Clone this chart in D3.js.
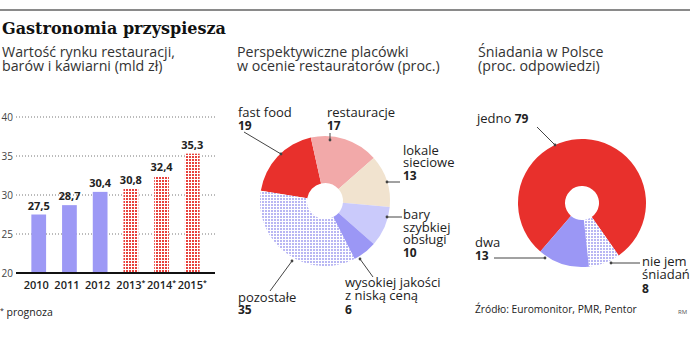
<!DOCTYPE html>
<html><head><meta charset="utf-8">
<script src="https://cdn.jsdelivr.net/npm/d3@7"></script>
<style>
body{margin:0;background:#fff;}
svg{display:block;font-family:"Open Sans",sans-serif;}
</style></head>
<body>
<svg id="c" width="698" height="340"></svg>
<script>
// ---------- data ----------
const years = ["2010","2011","2012","2013","2014","2015"];
const forecast = [false,false,false,true,true,true];
const marketValues = [27.5,28.7,30.4,30.8,32.4,35.3];
const yTicks = [20,25,30,35,40];

const outletLabels = [["fast food"],["restauracje"],["lokale","sieciowe"],["bary","szybkiej","obsługi"],["wysokiej jakości","z niską ceną"],["pozostałe"]];
const outletValues = [19,17,13,10,6,35];

const breakfastLabels = [["jedno"],["nie jem","śniadań"],["dwa"]];
const breakfastValues = [79,8,13];

const svg = d3.select("#c");
const fmt = v => String(v).replace(".", ",");
const txt = "#222";

// scale a text's font size so that its first line spans the given width
function fit(sel, width){
  const n = sel.node();
  const first = n.querySelector("tspan") || n;
  const fs = parseFloat(sel.attr("font-size"));
  const w = first.getComputedTextLength();
  if(w>0) sel.attr("font-size", fs*width/w);
  return sel;
}

// patterns
const defs = svg.append("defs");
function dotPattern(id, color){
  const p = defs.append("pattern").attr("id", id).attr("width",3).attr("height",3)
    .attr("patternUnits","userSpaceOnUse");
  p.append("rect").attr("width",3).attr("height",3).attr("fill","#fff");
  p.append("rect").attr("width",2).attr("height",2).attr("fill",color);
}
dotPattern("redDots","#e8413c");
dotPattern("lavDots","#b9b7f3");

// header
svg.append("line").attr("x1",0).attr("x2",690).attr("y1",10).attr("y2",10)
  .attr("stroke","#8a8a8a").attr("stroke-width",2);
fit(svg.append("text").attr("x",2).attr("y",34).text("Gastronomia przyspiesza")
  .attr("font-family","DejaVu Serif").attr("font-weight","bold").attr("font-size",16).attr("fill","#111"), 224);

function multiline(x, y, lines, size, lh, opts={}){
  const t = svg.append("text").attr("x",x).attr("y",y).attr("font-size",size).attr("fill",opts.fill||"#333");
  lines.forEach((l,i)=>t.append("tspan").attr("x",x).attr("dy",i?lh:0).text(l));
  return t;
}
const sub1 = fit(multiline(2,57,["Wartość rynku restauracji,","barów i kawiarni (mld zł)"],14,14), 173);
const subSize = sub1.attr("font-size");
multiline(237,57,["Perspektywiczne placówki","w ocenie restauratorów (proc.)"],subSize,14);
multiline(478,57,["Śniadania w Polsce","(proc. odpowiedzi)"],subSize,14);

// ---------- bar chart ----------
const x = d3.scaleBand().domain(years).range([16,215]).paddingInner(0.52).paddingOuter(0.5);
const y = d3.scaleLinear().domain([20,40]).range([273,117]);

const gy = svg.append("g").attr("transform","translate(16,0)")
  .call(d3.axisLeft(y).tickValues(yTicks).tickSize(0).tickPadding(3).tickFormat(d3.format("d")));
gy.select(".domain").remove();
gy.selectAll("text").attr("font-size",10).attr("fill","#444").attr("font-family","Open Sans");

svg.append("g").selectAll("line").data(yTicks.filter(d=>d>20)).join("line")
  .attr("x1",16).attr("x2",215).attr("y1",d=>y(d)).attr("y2",d=>y(d))
  .attr("stroke","#777").attr("stroke-width",1).attr("stroke-dasharray","1,2");

svg.append("g").selectAll("rect").data(marketValues).join("rect")
  .attr("x",(d,i)=>x(years[i])).attr("width",x.bandwidth())
  .attr("y",d=>y(d)).attr("height",d=>y(20)-y(d))
  .attr("fill",(d,i)=>forecast[i]?"url(#redDots)":"#9d99f5");

svg.append("line").attr("x1",16).attr("x2",215).attr("y1",y(20)).attr("y2",y(20))
  .attr("stroke","#111").attr("stroke-width",2);

svg.append("g").selectAll("text").data(marketValues).join("text")
  .attr("x",(d,i)=>x(years[i])+x.bandwidth()/2).attr("y",d=>y(d)-5)
  .attr("text-anchor","middle").attr("font-weight","bold").attr("font-size",11).attr("fill",txt)
  .text(d=>fmt(d));

const yl = svg.append("g").selectAll("text").data(years).join("text")
  .attr("x",(d,i)=>x(d)+x.bandwidth()/2-2.5 + (forecast[i]?2.5:0)).attr("y",289)
  .attr("text-anchor","middle").attr("font-size",11).attr("fill",txt).attr("font-weight","600");
yl.append("tspan").text(d=>d);
yl.filter((d,i)=>forecast[i]).append("tspan").attr("dy",-4).attr("font-size",7).text("*");

const fn = svg.append("text").attr("x",0).attr("y",316).attr("font-size",10.5).attr("fill",txt);
fn.append("tspan").attr("dy",-3).attr("font-size",7).text("*");
fn.append("tspan").attr("dy",3).text(" prognoza");

// ---------- leader helper ----------
function leader(pts){
  svg.append("polyline").attr("points",pts.map(p=>p.join(",")).join(" "))
    .attr("fill","none").attr("stroke","#444").attr("stroke-width",1);
  const e = pts[pts.length-1];
  svg.append("circle").attr("cx",e[0]).attr("cy",e[1]).attr("r",1.4).attr("fill","#444");
}
function label(x0,y0,lines,val,lh=12.5){
  multiline(x0,y0,lines,13,lh,{fill:txt});
  svg.append("text").attr("x",x0).attr("y",y0+lines.length*lh+0.5).attr("font-size",12)
    .attr("font-weight","bold").attr("fill",txt).text(val);
}

// ---------- donut 1 ----------
const c1 = [325,201];
const pie1 = d3.pie().sort(null).value(d=>d).startAngle(-1.414).endAngle(-1.414+2*Math.PI);
const arc1 = d3.arc().innerRadius(18).outerRadius(65);
const cols1 = ["#e8302c","#f2a9a9","#f1e3cf","#cacafb","#9b97f5","url(#lavDots)"];
svg.append("g").attr("transform",`translate(${c1})`).selectAll("path")
  .data(pie1(outletValues)).join("path").attr("d",arc1).attr("fill",(d,i)=>cols1[i]);

label(238,117,outletLabels[0],outletValues[0]);
leader([[244,132],[281,154]]);
label(327,117,outletLabels[1],outletValues[1]);
leader([[330,133],[330,140]]);
label(403,155,outletLabels[2],outletValues[2],12);
leader([[400,182],[387,182]]);
label(403,219,outletLabels[3],outletValues[3],12.5);
leader([[402,217],[387,217]]);
label(345,287,outletLabels[4],outletValues[4],13);
leader([[373,277],[360,259]]);
svg.append("text").attr("x",238).attr("y",302).attr("font-size",13).attr("fill",txt).text(outletLabels[5][0]);
svg.append("text").attr("x",238).attr("y",314).attr("font-size",12).attr("font-weight","bold").attr("fill",txt).text(outletValues[5]);
leader([[270,291],[292,261]]);

// ---------- donut 2 ----------
const c2 = [582,203];
const pie2 = d3.pie().sort(null).value(d=>d).startAngle(-2.433).endAngle(-2.433+2*Math.PI);
const arc2 = d3.arc().innerRadius(17).outerRadius(64);
const cols2 = ["#e8302c","url(#lavDots)","#9b97f5"];
svg.append("g").attr("transform",`translate(${c2})`).selectAll("path")
  .data(pie2(breakfastValues)).join("path").attr("d",arc2).attr("fill",(d,i)=>cols2[i]);

const j = svg.append("text").attr("x",477).attr("y",123).attr("fill",txt);
j.append("tspan").attr("font-size",13).text(breakfastLabels[0][0]+" ");
j.append("tspan").attr("font-size",12).attr("font-weight","bold").text(breakfastValues[0]);
leader([[537,127],[555,145]]);

svg.append("text").attr("x",475).attr("y",247).attr("font-size",13).attr("fill",txt).text(breakfastLabels[2][0]);
svg.append("text").attr("x",475).attr("y",260).attr("font-size",12).attr("font-weight","bold").attr("fill",txt).text(breakfastValues[2]);
leader([[494,258],[545,258]]);

label(642,266,breakfastLabels[1],breakfastValues[1],13);
leader([[640,263],[611,263]]);

fit(svg.append("text").attr("x",475).attr("y",313).attr("font-size",10.5).attr("fill",txt)
  .text("Źródło: Euromonitor, PMR, Pentor"), 162);
svg.append("text").attr("x",678).attr("y",314).attr("font-size",6).attr("fill","#555").text("RM");
</script>
</body></html>
